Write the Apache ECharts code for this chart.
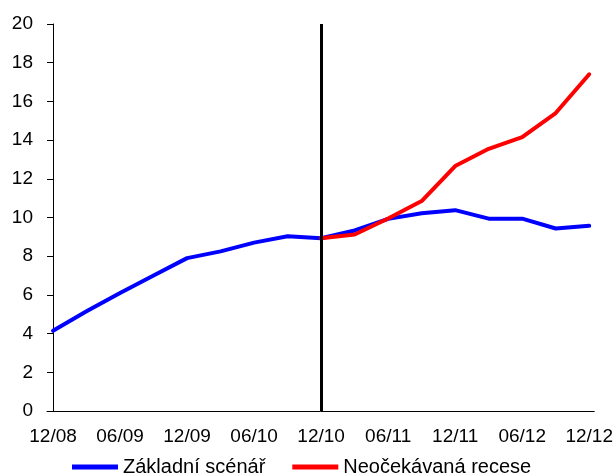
<!DOCTYPE html>
<html>
<head>
<meta charset="utf-8">
<script src="https://cdn.jsdelivr.net/npm/echarts@6/dist/echarts.min.js"></script>
<style>
  html, body { margin: 0; padding: 0; background: #fff; }
  #chart { width: 616px; height: 475px; }
</style>
</head>
<body>
<div id="chart"></div>
<script>
// Quarterly periods, 12/2008 – 12/2012
const categories = ['12/08', '03/09', '06/09', '09/09', '12/09', '03/10', '06/10', '09/10',
  '12/10', '03/11', '06/11', '09/11', '12/11', '03/12', '06/12', '09/12', '12/12'];
// Every other quarter is labelled on the axis
const tickIndexes = [0, 2, 4, 6, 8, 10, 12, 14, 16];
const yTicks = [0, 2, 4, 6, 8, 10, 12, 14, 16, 18, 20];

const baseName = 'Základní scénář';
const baseValues = [4.15, 5.15, 6.1, 7.0, 7.9, 8.25, 8.7, 9.03, 8.93, 9.33, 9.93, 10.22, 10.38, 9.94, 9.94, 9.43, 9.57];

const recessionName = 'Neočekávaná recese';
const recessionValues = [null, null, null, null, null, null, null, null,
  8.93, 9.12, 9.95, 10.85, 12.66, 13.55, 14.15, 15.4, 17.4];

// Forecast start marker (index of 12/10)
const forecastStart = 8;

const toPairs = vals => vals.map((v, i) => [i, v]).filter(p => p[1] !== null);

const font = 'Arial, "Liberation Sans", sans-serif';
const chart = echarts.init(document.getElementById('chart'), null, { renderer: 'canvas' });

chart.setOption({
  animation: false,
  backgroundColor: '#ffffff',
  grid: { left: 47, right: 20, top: 24, bottom: 64, containLabel: false },
  xAxis: {
    type: 'value',
    min: -0.18,
    max: 16.15,
    splitLine: { show: false },
    axisLine: { show: true, lineStyle: { color: '#000', width: 1 } },
    axisTick: { show: false },
    axisLabel: {
      customValues: tickIndexes,
      formatter: v => categories[Math.round(v)],
      color: '#000',
      fontFamily: font,
      fontSize: 19,
      margin: 16
    }
  },
  yAxis: {
    type: 'value',
    min: yTicks[0],
    max: yTicks[yTicks.length - 1],
    interval: 2,
    splitLine: { show: false },
    axisLine: { show: true, lineStyle: { color: '#000', width: 1 } },
    axisTick: { show: true, length: 6, lineStyle: { color: '#000' } },
    axisLabel: { color: '#000', fontFamily: font, fontSize: 19, margin: 14 }
  },
  legend: {
    left: 72,
    top: 457,
    padding: 0,
    itemWidth: 46,
    itemHeight: 5,
    itemGap: 27,
    icon: 'rect',
    textStyle: { color: '#000', fontFamily: font, fontSize: 20 },
    data: [baseName, recessionName]
  },
  series: [
    {
      name: baseName,
      type: 'line',
      data: toPairs(baseValues),
      showSymbol: false,
      symbol: 'none',
      lineStyle: { color: '#0000ff', width: 4, join: 'round', cap: 'round' },
      itemStyle: { color: '#0000ff' },
      z: 2
    },
    {
      name: recessionName,
      type: 'line',
      data: toPairs(recessionValues),
      showSymbol: false,
      symbol: 'none',
      lineStyle: { color: '#ff0000', width: 4, join: 'round', cap: 'round' },
      itemStyle: { color: '#ff0000' },
      z: 3,
      markLine: {
        silent: true,
        symbol: ['none', 'none'],
        label: { show: false },
        lineStyle: { color: '#000', width: 3, type: 'solid' },
        data: [[
          { coord: [forecastStart, yTicks[0]] },
          { coord: [forecastStart, yTicks[yTicks.length - 1]] }
        ]]
      }
    }
  ]
});
</script>
</body>
</html>
